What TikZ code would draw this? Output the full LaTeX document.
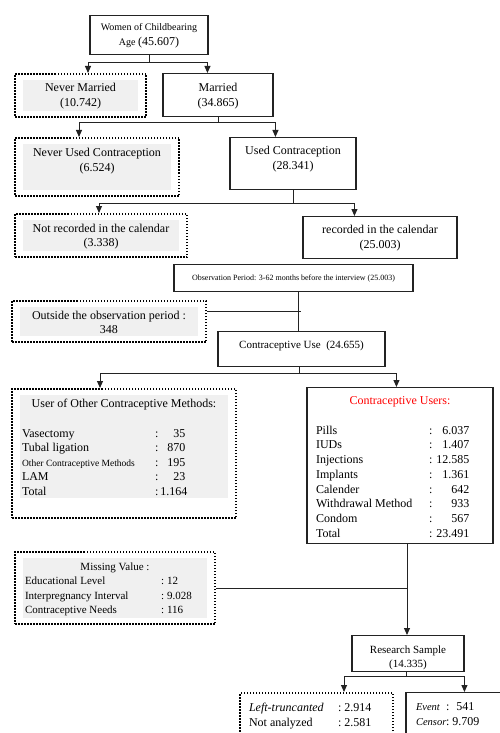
\documentclass[tikz,border=0pt]{standalone}
\usepackage{fontspec}
\setmainfont{Liberation Serif}
\usetikzlibrary{calc}
\usetikzlibrary{arrows.meta}

\definecolor{boxgray}{RGB}{240,240,240}
\definecolor{linegray}{RGB}{35,35,35}

\newcommand{\otherrow}[2]{\makebox[133pt][l]{#1}:\makebox[27pt][r]{#2}}
\newcommand{\userrow}[2]{\makebox[113pt][l]{#1}:\makebox[37pt][r]{#2}}
\newcommand{\missrow}[2]{\makebox[136pt][l]{#1}:\hspace{3pt}#2}

\tikzset{
  solidbox/.style={draw=linegray, line width=1.1pt, inner xsep=0pt, inner ysep=0pt,
    anchor=north, align=flush center, font=\fontsize{12}{14.5}\selectfont},
  dotline/.style={draw=black, line width=2pt, dash pattern=on 1.5pt off 1.5pt,
    inner xsep=0pt, inner ysep=0pt, anchor=north, align=flush center,
    font=\fontsize{12}{14.5}\selectfont},
  dotbox/.style={dotline, path picture={
    \fill[boxgray] ([shift={(8pt,-6pt)}]path picture bounding box.north west)
      rectangle ([shift={(-8pt,#1)}]path picture bounding box.south east);}},
  dotbox/.default=6pt,
  link/.style={draw=linegray, line width=1pt},
  arr/.style={link, -{Triangle[width=6pt,length=7pt]}}
}

\begin{document}
\begin{tikzpicture}[x=1pt, y=-1pt]
    \useasboundingbox (0,0) rectangle (499,733);

    % top of the flow
    \node[solidbox, text width=118pt, text height=15pt, text depth=24pt,
      font=\fontsize{10}{15}\selectfont] (women) at (149,15)
      {Women of Childbearing\\Age {\fontsize{12}{14.5}\selectfont(45.607)}};
    \node[dotbox, text width=131pt, text height=18pt, text depth=25pt] (never) at (80.5,73) {Never Married\\(10.742)};
    \node[solidbox, text width=110pt, text height=18pt, text depth=25pt] (married) at (218,73) {Married\\(34.865)};

    \node[dotbox, text width=164pt, text height=19pt, text depth=39pt] (neverused) at (97,137) {Never Used Contraception\\(6.524)};
    \node[solidbox, text width=126pt, text height=17pt, text depth=35pt] (used) at (293,137) {Used Contraception\\(28.341)};

    \node[dotbox, text width=172pt, text height=18pt, text depth=25pt] (notrec) at (101,213) {Not recorded in the calendar\\(3.338)};
    \node[solidbox, text width=154pt, text height=17pt, text depth=25pt] (rec) at (380,216) {recorded in the calendar\\(25.003)};

    % observation window
    \node[solidbox, text width=239pt, text height=15.5pt, text depth=11.5pt,
      font=\fontsize{8}{10}\selectfont] (obs) at (293.5,264)
      {Observation Period: 3-62 months before the interview (25.003)};
    \node[dotbox, text width=194pt, text height=18pt, text depth=23pt] (outside) at (109,300) {Outside the observation period :\\348};
    \node[solidbox, text width=167pt, text height=17pt, text depth=18pt,
      font=\fontsize{11}{13.6}\selectfont] (use) at (301.5,331) {Contraceptive Use\ \ (24.655)};

    % methods
    \node[dotbox=20pt, inner xsep=10pt, text width=204pt, align=flush left,
      text height=18pt, text depth=111pt] (other) at (124,388)
      {\makebox[204pt]{User of Other Contraceptive Methods:}\\[15.5pt]
       \otherrow{Vasectomy}{35}\\
       \otherrow{Tubal ligation}{870}\\
       \otherrow{{\fontsize{9.5}{11}\selectfont Other Contraceptive Methods}}{195}\\
       \otherrow{LAM}{23}\\
       \makebox[133pt][l]{Total}:\hspace{2pt}1.164};
    \node[solidbox, inner xsep=9pt, text width=168pt, align=flush left,
      text height=17pt, text depth=139pt, font=\fontsize{12}{14.7}\selectfont] (users) at (400,387)
      {\makebox[168pt]{\color{red}Contraceptive Users:}\\[15pt]
       \userrow{Pills}{6.037}\\
       \userrow{IUDs}{1.407}\\
       \userrow{Injections}{12.585}\\
       \userrow{Implants}{1.361}\\
       \userrow{Calender}{642}\\
       \userrow{Withdrawal Method}{933}\\
       \userrow{Condom}{567}\\
       \userrow{Total}{23.491}};

    % missing values and final sample
    \node[dotbox, inner xsep=10pt, text width=180pt, align=flush left,
      text height=18.5pt, text depth=53.5pt, font=\fontsize{11}{14.3}\selectfont] (missing) at (115,551)
      {\makebox[180pt]{Missing Value :}\\
       \missrow{Educational Level}{12}\\
       \missrow{Interpregnancy Interval}{9.028}\\
       \missrow{Contraceptive Needs}{116}};
    \node[solidbox, text width=112pt, text height=17.5pt, text depth=18.5pt,
      font=\fontsize{11}{14}\selectfont] (sample) at (408,635) {Research Sample\\(14.335)};

    \node[dotline, inner xsep=9pt, text width=135pt, align=flush left,
      text height=18pt, text depth=35pt, font=\fontsize{12}{15}\selectfont] (left) at (316.5,692)
      {\makebox[89pt][l]{\textit{Left-truncanted}}:\hspace{3pt}2.914\\
       \makebox[89pt][l]{Not analyzed}:\hspace{3pt}2.581};
    \node[solidbox, inner xsep=10pt, text width=79pt, align=flush left,
      text height=18pt, text depth=35pt, font=\fontsize{12}{15}\selectfont] (event) at (455.5,692)
      {\makebox[30pt][l]{\fontsize{10.5}{12}\selectfont\textit{Event}}:\hspace{7pt}541\\
       \makebox[30pt][l]{\fontsize{10.5}{12}\selectfont\textit{Censor}}:\hspace{3pt}9.709};

    % connectors
    \draw[link] (women.south) -- ++(0,7) coordinate (w1);
    \draw[arr] (w1) -| ($(never.north west)+(74,0)$);
    \draw[arr] (w1) -| ($(married.north west)+(45,0)$);

    \draw[link] (married.south) -- ++(0,5) coordinate (m1);
    \draw[arr] (m1) -| ($(neverused.north west)+(65,0)$);
    \draw[arr] (m1) -| ($(used.north west)+(46,0)$);

    \draw[link] (used.south) -- ++(0,13) coordinate (u1);
    \draw[arr] (u1) -| ($(notrec.north west)+(85,0)$);
    \draw[arr] (u1) -| ($(rec.north west)+(52,0)$);

    \draw[link] ($(obs.south)+(4.5,0)$) coordinate (o1) -- (o1 |- use.north);
    \draw[link] ($(outside.north east)+(0,11)$) -- ++(94,0);

    \draw[link] ($(use.south)+(-2.5,0)$) -- ++(0,6) coordinate (c1);
    \draw[arr] (c1) -| ($(other.north west)+(89,0)$);
    \draw[arr] (c1) -| ($(users.north west)+(90,0)$);

    \draw[arr] ($(users.south)+(7,0)$) coordinate (s1) -- (s1 |- sample.north);
    \draw[link] (missing.east) -- (missing.east -| s1);

    \draw[link] ($(sample.south)+(-1.5,0)$) -- ++(0,4) coordinate (r1);
    \draw[arr] (r1) -| ($(left.north west)+(105,0)$);
    \draw[arr] (r1) -| ($(event.north west)+(59,0)$);
\end{tikzpicture}
\end{document}
